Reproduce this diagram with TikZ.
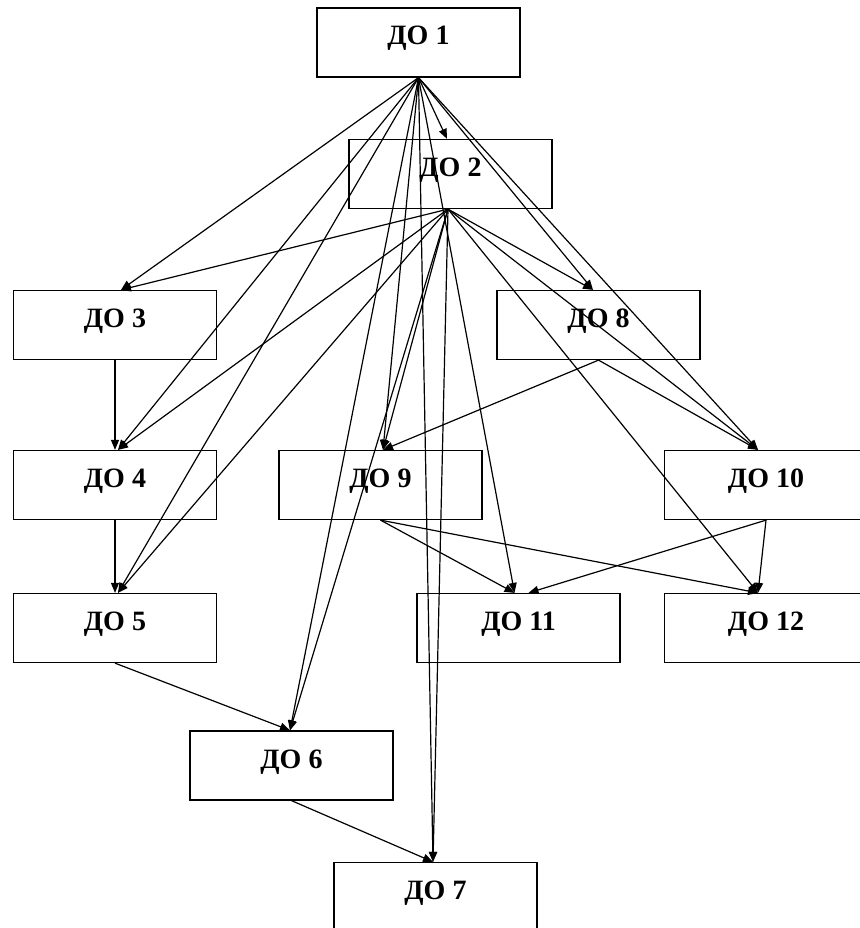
\documentclass[tikz,border=0pt]{standalone}
\usepackage{fontspec}
\setmainfont{Liberation Serif}
\usetikzlibrary{arrows.meta}
\begin{document}
\begin{tikzpicture}[x=1pt,y=-1pt,
  box/.style={draw,line width=1.25pt,minimum width=203pt,minimum height=69pt,inner sep=0pt,
    font=\bfseries\fontsize{28}{28}\selectfont,text height=20pt,text depth=15pt},
  arr/.style={line width=1.2pt,-{Triangle[length=10pt,width=8pt]}}]
\useasboundingbox (0,0) rectangle (859,928);
\node[box] (d1)  at (418.5,42.5) {ДО 1};
\node[box] (d2)  at (450.5,174)  {ДО 2};
\node[box] (d3)  at (115,325)    {ДО 3};
\node[box] (d8)  at (598.5,325)  {ДО 8};
\node[box] (d4)  at (115,485)    {ДО 4};
\node[box] (d9)  at (380.5,485)  {ДО 9};
\node[box] (d10) at (766,485)    {ДО 10};
\node[box] (d5)  at (115,628)    {ДО 5};
\node[box] (d11) at (518.5,628)  {ДО 11};
\node[box] (d12) at (766,628)    {ДО 12};
\node[box] (d6)  at (291.5,765.5){ДО 6};
\node[box] (d7)  at (435.5,897)  {ДО 7};
% targets
\coordinate (t2)  at ([xshift=-3.5pt]d2.north);
\coordinate (t3)  at ([xshift=6pt]d3.north);
\coordinate (t4)  at ([xshift=3pt]d4.north);
\coordinate (t5)  at ([xshift=3pt]d5.north);
\coordinate (t6)  at ([xshift=-1.5pt]d6.north);
\coordinate (t7)  at ([xshift=-2.5pt]d7.north);
\coordinate (t8)  at ([xshift=-5.5pt]d8.north);
\coordinate (t9)  at ([xshift=2.5pt]d9.north);
\coordinate (t10) at ([xshift=-8pt]d10.north);
\coordinate (t11) at ([xshift=-4pt]d11.north);
\coordinate (t11b) at ([xshift=10pt]d11.north);
\coordinate (t12) at ([xshift=-8pt]d12.north);
\coordinate (s2)  at ([xshift=-2.5pt]d2.south);
% from ДО 1
\foreach \t in {t2,t3,t4,t5,t6,t7,t8,t9,t10,t11}
  \draw[arr] (d1.south) -- (\t);
% from ДО 2
\foreach \t in {t3,t4,t5,t6,t7,t8,t9,t10,t12}
  \draw[arr] (s2) -- (\t);
\draw[arr] (d3.south) -- (d4.north);
\draw[arr] (d4.south) -- (d5.north);
\draw[arr] (d5.south) -- (t6);
\draw[arr] (d6.south) -- (t7);
\draw[arr] (d8.south) -- (t9);
\draw[arr] (d8.south) -- (t10);
\draw[arr] (d9.south) -- (t11);
\draw[arr] (d9.south) -- (t12);
\draw[arr] (d10.south) -- (t11b);
\draw[arr] (d10.south) -- (t12);
\end{tikzpicture}
\end{document}
